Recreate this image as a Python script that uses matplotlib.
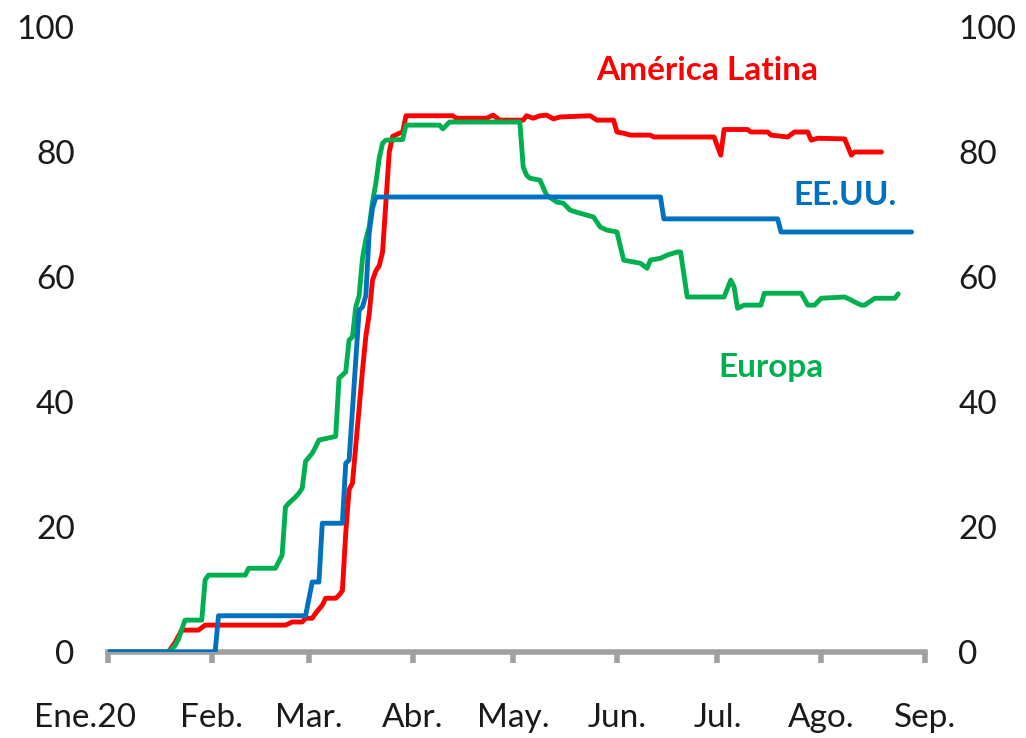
import pandas as pd, numpy as np
import matplotlib
matplotlib.use('Agg')
import matplotlib.pyplot as plt
import matplotlib.dates as mdates
import matplotlib.transforms as mtransforms

plt.rcParams['font.family'] = ['Lato', 'DejaVu Sans']

# Share of restrictions index (0-100), daily, 2020
usa_dates = ['01-01', '02-02', '02-03', '02-29', '03-02', '03-04', '03-05', '03-11',
             '03-12', '03-13', '03-16', '03-17', '03-18', '03-19', '03-20', '03-21',
             '06-14', '06-15', '07-19', '07-20', '08-28']
usa_vals = [0, 0, 5.8, 5.8, 11.2, 11.2, 20.6, 20.6,
            30.2, 30.7, 54.7, 55.2, 57, 67, 71, 72.8,
            72.8, 69.3, 69.3, 67.2, 67.2]

latam_dates = ['01-01', '01-19', '01-21', '01-23', '01-28', '01-30', '02-23', '02-25',
               '02-28', '02-29', '03-02', '03-03', '03-05', '03-06', '03-09', '03-10',
               '03-11', '03-12', '03-13', '03-14', '03-15', '03-16', '03-17', '03-18',
               '03-19', '03-20', '03-21', '03-22', '03-23', '03-24', '03-25', '03-26',
               '03-28', '03-29', '03-30', '04-13', '04-14', '04-23', '04-25', '04-27',
               '05-04', '05-05', '05-07', '05-09', '05-11', '05-13', '05-15', '05-24',
               '05-26', '05-31', '06-01', '06-03', '06-05', '06-11', '06-12', '06-30',
               '07-02', '07-03', '07-10', '07-11', '07-16', '07-17', '07-22', '07-24',
               '07-28', '07-29', '07-31', '08-08', '08-10', '08-11', '08-19']
latam_vals = [0, 0, 1.5, 3.5, 3.5, 4.3, 4.3, 4.8,
              4.8, 5.4, 5.4, 6.2, 7.5, 8.6, 8.6, 9.1,
              9.8, 19, 26, 27, 33, 39, 45, 50.5,
              54, 59.5, 61, 61.8, 64, 72, 80, 82.5,
              83, 83.2, 85.8, 85.8, 85.4, 85.4, 85.9, 85.1,
              85.1, 85.8, 85.4, 85.8, 85.9, 85.3, 85.6, 85.8,
              85.1, 85.1, 83.2, 83, 82.7, 82.7, 82.4, 82.4,
              79.5, 83.6, 83.6, 83.2, 83.2, 82.7, 82.4, 83.2,
              83.2, 81.9, 82.2, 82.1, 79.5, 80, 80]

europe_dates = ['01-01', '01-19', '01-21', '01-22', '01-24', '01-29', '01-30', '01-31',
                '02-11', '02-12', '02-20', '02-22', '02-23', '02-24', '02-26', '02-27',
                '02-28', '02-29', '03-02', '03-03', '03-04', '03-09', '03-10', '03-11',
                '03-12', '03-13', '03-14', '03-15', '03-16', '03-17', '03-18', '03-19',
                '03-20', '03-21', '03-22', '03-23', '03-24', '03-29', '03-30', '04-09',
                '04-10', '04-12', '05-03', '05-04', '05-05', '05-06', '05-09', '05-11',
                '05-14', '05-16', '05-18', '05-21', '05-23', '05-25', '05-27', '05-29',
                '06-01', '06-03', '06-08', '06-10', '06-11', '06-14', '06-16', '06-19',
                '06-20', '06-22', '07-03', '07-05', '07-06', '07-07', '07-09', '07-14',
                '07-15', '07-26', '07-28', '07-30', '08-01', '08-08', '08-10', '08-11',
                '08-13', '08-14', '08-17', '08-23', '08-24']
europe_vals = [0, 0, 1, 2, 5.1, 5.1, 11.5, 12.3,
               12.3, 13.4, 13.4, 15.5, 23.2, 23.8, 24.8, 25.4,
               26.2, 30.5, 31.8, 32.8, 33.9, 34.5, 43.8, 44.3,
               44.8, 49.9, 50.4, 55.2, 57, 63, 66, 68,
               72, 75, 79, 81.4, 81.9, 82, 84.3, 84.3,
               83.7, 84.8, 84.8, 77.6, 76.3, 75.8, 75.5, 73.1,
               72, 71.8, 70.7, 70.2, 69.9, 69.6, 68, 67.5,
               67.2, 62.7, 62.2, 61.4, 62.7, 63, 63.5, 64,
               64, 56.8, 56.8, 59.5, 58.4, 55, 55.5, 55.5,
               57.4, 57.4, 55.5, 55.5, 56.6, 56.8, 56.3, 56,
               55.5, 55.5, 56.6, 56.6, 57.3]

month_labels = ['Ene.20', 'Feb.', 'Mar.', 'Abr.', 'May.', 'Jun.', 'Jul.', 'Ago.', 'Sep.']

def to_dt(d):
    return pd.to_datetime(['2020-' + s for s in d])

RED, BLUE, GREEN, GRAY = '#FF0000', '#0070C0', '#00B050', '#A0A0A0'
TXT = '#1a1a1a'

fig = plt.figure(figsize=(10.26, 7.38), dpi=100)
ax = fig.add_axes([108/1026, 1-652/738, 817/1026, 625/738])

kw = dict(lw=3.5, solid_joinstyle='round', solid_capstyle='round', zorder=3)
ax.plot(to_dt(latam_dates), latam_vals, color=RED, **kw)
ax.plot(to_dt(europe_dates), europe_vals, color=GREEN, **kw)
ax.plot(to_dt(usa_dates), usa_vals, color=BLUE, **kw)

ax.set_xlim(pd.Timestamp('2020-01-01'), pd.Timestamp('2020-09-01'))
ax.set_ylim(0, 100)

ticks = pd.date_range('2020-01-01', '2020-09-01', freq='MS')
ax.set_xticks(ticks)
ax.set_xticklabels(month_labels)
ax.set_yticks(range(0, 101, 20))

for s in ['top', 'left', 'right']:
    ax.spines[s].set_visible(False)
ax.spines['bottom'].set_color(GRAY)
ax.spines['bottom'].set_linewidth(4)
ax.spines['bottom'].set_zorder(1)

ax.tick_params(axis='x', direction='out', length=8, width=4, color=GRAY,
               pad=29, labelsize=24, labelcolor=TXT)
ax.tick_params(axis='y', length=0, pad=24, labelsize=24, labelcolor=TXT,
               labelleft=True, labelright=True)

# first label sits left of its tick
lab0 = ax.get_xticklabels()[0]
lab0.set_transform(lab0.get_transform() +
                   mtransforms.ScaledTranslation(-23/100, 0, fig.dpi_scale_trans))

ax.text(pd.Timestamp('2020-06-28'), 93.0, 'América Latina', color=RED,
        fontsize=24, fontweight='bold', ha='center', va='center')
ax.text(pd.Timestamp('2020-08-08'), 73.0, 'EE.UU.', color=BLUE,
        fontsize=24, fontweight='bold', ha='center', va='center')
ax.text(pd.Timestamp('2020-07-17'), 45.5, 'Europa', color=GREEN,
        fontsize=24, fontweight='bold', ha='center', va='center')

fig.savefig('out.png', dpi=100)
